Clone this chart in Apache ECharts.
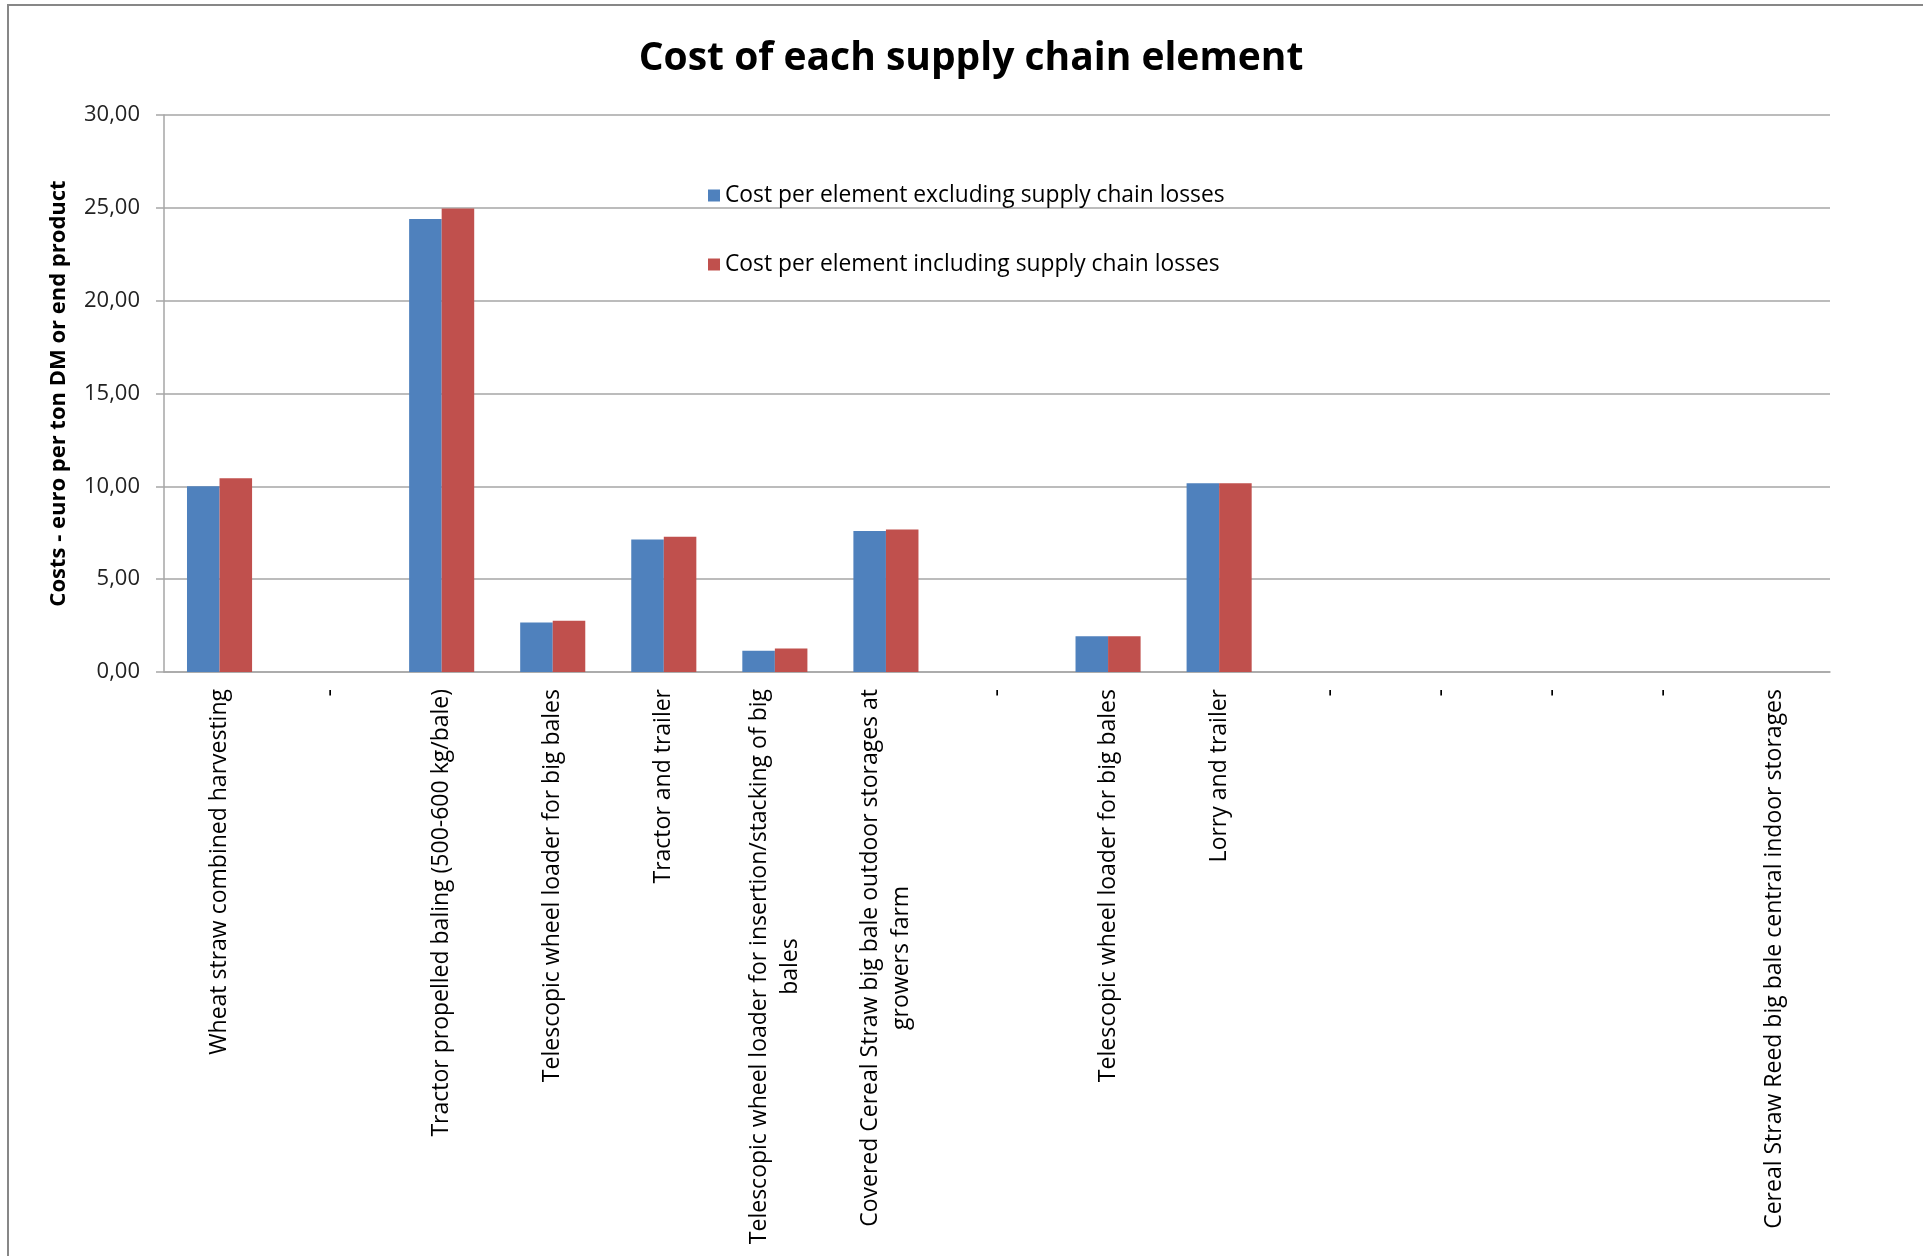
<!DOCTYPE html>
<html>
<head>
<meta charset="utf-8">
<title>Cost of each supply chain element</title>
<script src="https://cdn.jsdelivr.net/npm/echarts@6/dist/echarts.min.js"></script>
<style>
  html, body { margin: 0; padding: 0; background: #ffffff; }
  #chart { width: 1923px; height: 1256px; }
</style>
</head>
<body>
<div id="chart"></div>
<script>
// Supply chain steps (a "\n" marks where a long name wraps)
const categories = [
  'Wheat straw combined harvesting',
  '-',
  'Tractor propelled baling (500-600 kg/bale)',
  'Telescopic wheel loader for big bales',
  'Tractor and trailer',
  'Telescopic wheel loader for insertion/stacking of big\nbales',
  'Covered Cereal Straw big bale outdoor storages at\ngrowers farm',
  '-',
  'Telescopic wheel loader for big bales',
  'Lorry and trailer',
  '-',
  '-',
  '-',
  '-',
  'Cereal Straw Reed big bale central indoor storages'
];

// Costs in euro per ton DM or end product
const costExcludingLosses = [10.00, null, 24.40, 2.67, 7.14, 1.15, 7.60, null, 1.93, 10.17, null, null, null, null, 0];
const costIncludingLosses = [10.43, null, 24.96, 2.76, 7.28, 1.26, 7.67, null, 1.93, 10.17, null, null, null, null, 0];

const seriesNames = [
  'Cost per element excluding supply chain losses',
  'Cost per element including supply chain losses'
];

const yTicks = { min: 0, max: 30, step: 5 };

const chart = echarts.init(document.getElementById('chart'), null, { renderer: 'canvas' });

const FONT = '"Open Sans", "Noto Sans", sans-serif';

function wrapLabel(value) {
  if (value.indexOf('\n') < 0) return value;
  return value.split('\n').map(function (line) { return '{c|' + line + '}'; }).join('\n');
}

chart.setOption({
  backgroundColor: '#ffffff',
  animation: false,
  title: {
    text: 'Cost of each supply chain element',
    left: 966,
    top: 34,
    textAlign: 'center',
    textStyle: { fontFamily: FONT, fontWeight: 'bold', fontSize: 39, color: '#000000' }
  },
  legend: {
    orient: 'vertical',
    left: 703,
    top: 177,
    itemWidth: 12,
    itemHeight: 12,
    itemGap: 42,
    icon: 'rect',
    selectedMode: false,
    textStyle: { fontFamily: FONT, fontSize: 22.8, color: '#000000', lineHeight: 27, padding: [0, 0, 0, 0] },
    data: seriesNames
  },
  grid: { left: 164, top: 115, right: 93, bottom: 584, containLabel: false },
  xAxis: {
    type: 'category',
    data: categories,
    axisLine: { show: true, lineStyle: { color: '#a6a6a6', width: 1.5 } },
    axisTick: { show: false },
    axisLabel: {
      interval: 0,
      rotate: 90,
      margin: 17,
      fontFamily: FONT,
      fontSize: 23,
      color: '#000000',
      lineHeight: 31,
      formatter: wrapLabel,
      rich: { c: { align: 'center', fontFamily: FONT, fontSize: 23, color: '#000000', lineHeight: 31 } }
    }
  },
  yAxis: {
    type: 'value',
    min: yTicks.min,
    max: yTicks.max,
    interval: yTicks.step,
    name: 'Costs - euro per ton DM or end product',
    nameLocation: 'middle',
    nameRotate: 90,
    nameGap: 94,
    nameTextStyle: { fontFamily: FONT, fontWeight: 'bold', fontSize: 22, color: '#000000' },
    axisLine: { show: true, lineStyle: { color: '#a6a6a6', width: 1.5 } },
    axisTick: { show: true, inside: false, length: 8, lineStyle: { color: '#a6a6a6', width: 1.5 } },
    axisLabel: {
      margin: 24,
      fontFamily: FONT,
      fontSize: 22,
      color: '#222222',
      formatter: function (v) { return v.toFixed(2).replace('.', ','); }
    },
    splitLine: { show: true, lineStyle: { color: '#a6a6a6', width: 1.5 } }
  },
  series: [
    {
      name: seriesNames[0],
      type: 'bar',
      data: costExcludingLosses,
      barWidth: '29.3%',
      barGap: '0%',
      itemStyle: { color: '#4f81bd' }
    },
    {
      name: seriesNames[1],
      type: 'bar',
      data: costIncludingLosses,
      barWidth: '29.3%',
      barGap: '0%',
      itemStyle: { color: '#c0504d' }
    }
  ],
  graphic: [
    {
      type: 'rect',
      silent: true,
      z: 100,
      shape: { x: 8, y: 5, width: 2100, height: 1400 },
      style: { fill: null, stroke: '#878787', lineWidth: 2 }
    }
  ]
});
</script>
</body>
</html>
